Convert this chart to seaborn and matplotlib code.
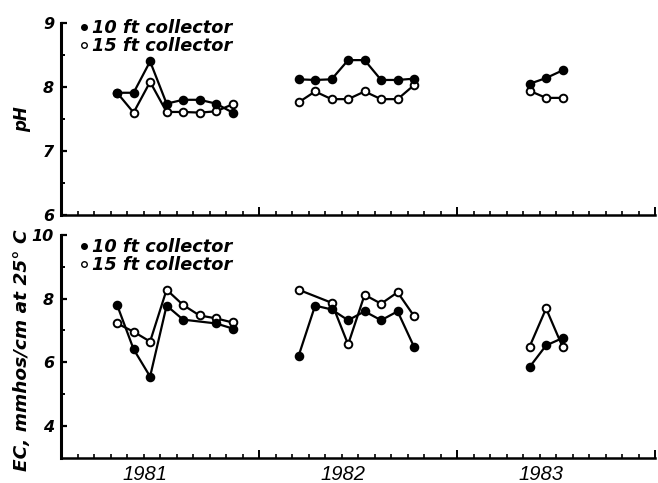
import numpy as np
import pandas as pd
import seaborn as sns
import matplotlib.pyplot as plt
from matplotlib.lines import Line2D

sns.set_style("ticks", {"axes.edgecolor": "black", "text.color": "black",
                        "axes.labelcolor": "black", "xtick.color": "black",
                        "ytick.color": "black"})
plt.rcParams['font.family'] = ['DejaVu Sans']

# sampling months per season
months_1981 = ["1981-04", "1981-05", "1981-06", "1981-07", "1981-08", "1981-09", "1981-10", "1981-11"]
months_1982 = ["1982-03", "1982-04", "1982-05", "1982-06", "1982-07", "1982-08", "1982-09", "1982-10"]
months_1983 = ["1983-05", "1983-06", "1983-07"]

# pH
ph_10_1981 = [7.91, 7.91, 8.40, 7.74, 7.80, 7.80, 7.74, 7.60]
ph_10_1982 = [8.12, 8.11, 8.12, 8.42, 8.42, 8.11, 8.11, 8.13]
ph_10_1983 = [8.05, 8.14, 8.26]
ph_15_1981 = [7.91, 7.60, 8.08, 7.61, 7.61, 7.60, 7.62, 7.73]
ph_15_1982 = [7.76, 7.93, 7.81, 7.81, 7.93, 7.81, 7.81, 8.03]
ph_15_1983 = [7.94, 7.83, 7.83]

# EC (NaN = no sample that month)
ec_10_1981 = [7.80, 6.41, 5.55, 7.78, 7.34, np.nan, 7.22, 7.06]
ec_10_1982 = [6.20, 7.78, 7.66, 7.32, 7.60, 7.32, 7.60, 6.48]
ec_10_1983 = [5.85, 6.53, 6.76]
ec_15_1981 = [7.22, 6.96, 6.65, 8.28, 7.80, 7.47, 7.38, 7.25]
ec_15_1982 = [8.28, np.nan, 7.87, 6.56, 8.12, 7.84, 8.20, 7.45]
ec_15_1983 = [6.49, 7.69, 6.48]

years = ["1981", "1982", "1983"]
collectors = ["10 ft collector", "15 ft collector"]

rows = []
seasons = [months_1981, months_1982, months_1983]
ph = {collectors[0]: [ph_10_1981, ph_10_1982, ph_10_1983],
      collectors[1]: [ph_15_1981, ph_15_1982, ph_15_1983]}
ec = {collectors[0]: [ec_10_1981, ec_10_1982, ec_10_1983],
      collectors[1]: [ec_15_1981, ec_15_1982, ec_15_1983]}
for c in collectors:
    for s, mlist in enumerate(seasons):
        for i, m in enumerate(mlist):
            d = pd.Period(m, freq="M")
            x = (d.year - 1981) * 12 + d.month - 1 + 0.4  # mid-month sample
            rows.append(dict(collector=c, season=s, x=x,
                             pH=ph[c][s][i], EC=ec[c][s][i]))
df = pd.DataFrame(rows)

fig = plt.figure(figsize=(6.58, 4.83), dpi=100)
ax1 = fig.add_axes([61/658, 1 - 215/483, 594/658, 192/483])
ax2 = fig.add_axes([61/658, 1 - 457.7/483, 594/658, 222.7/483])

font = dict(weight='bold', style='italic')
style = {collectors[0]: dict(mfc='black', zorder=4),
         collectors[1]: dict(mfc='white', zorder=3)}

for ax, col in [(ax1, 'pH'), (ax2, 'EC')]:
    for c in collectors:
        sub = df[df.collector == c].dropna(subset=[col])
        sns.lineplot(data=sub, x='x', y=col, units='season', estimator=None,
                     sort=False, color='black', marker='o', markersize=5.5,
                     mec='black', mew=1.4, lw=1.6, ax=ax, legend=False,
                     **style[c])
    ax.set_xlim(0, 36)
    ax.set_xticks([12, 24, 36])
    ax.set_xticks(range(1, 36), minor=True)
    ax.set_xticklabels([])
    ax.tick_params(axis='x', which='major', direction='in', length=6, width=1.4)
    ax.tick_params(axis='x', which='minor', direction='in', length=3, width=1.2)
    ax.tick_params(axis='y', which='major', direction='in', length=4, width=1.6,
                   labelsize=11.5, pad=5)
    ax.tick_params(axis='y', which='minor', direction='in', length=3, width=1.4)
    sns.despine(ax=ax)
    ax.spines['left'].set_linewidth(2.2)
    ax.spines['bottom'].set_linewidth(1.8)
    ax.set_xlabel('')
    handles = [Line2D([], [], ls='none', marker='o', color='black', mfc='black', ms=4),
               Line2D([], [], ls='none', marker='o', color='black', mfc='white', ms=4)]
    ax.legend(handles, collectors, loc='upper left', frameon=False,
              handlelength=0.4, handletextpad=0.25, labelspacing=0.0,
              borderpad=0, borderaxespad=0,
              prop=dict(family='DejaVu Sans', weight='bold', style='italic', size=12.8),
              bbox_to_anchor=(0.033, 1.02 if col == 'pH' else 0.985))

ax1.set_ylim(6, 9)
ax1.set_yticks([6, 7, 8, 9])
ax1.set_yticks([6.5, 7.5, 8.5], minor=True)
ax1.set_yticklabels(['6', '7', '8', '9'], **font)
ax1.set_ylabel('pH', fontsize=12, **font)
ax1.yaxis.set_label_coords(-0.05, 0.5)

ax2.set_ylim(3, 10)
ax2.set_yticks([4, 6, 8, 10])
ax2.set_yticks([5, 7, 9], minor=True)
ax2.set_yticklabels(['4', '6', '8', '10'], **font)
ax2.set_ylabel('EC, mmhos/cm at 25° C', fontsize=13.3, **font)
ax2.yaxis.set_label_coords(-0.05, 0.484)

for i, y in enumerate(years):
    ax2.text(i * 12 + 5.1, -0.035, y, transform=ax2.get_xaxis_transform(),
             ha='center', va='top', fontsize=14.5, style='italic',
             family='Liberation Sans')

fig.savefig('out.png', dpi=100)
